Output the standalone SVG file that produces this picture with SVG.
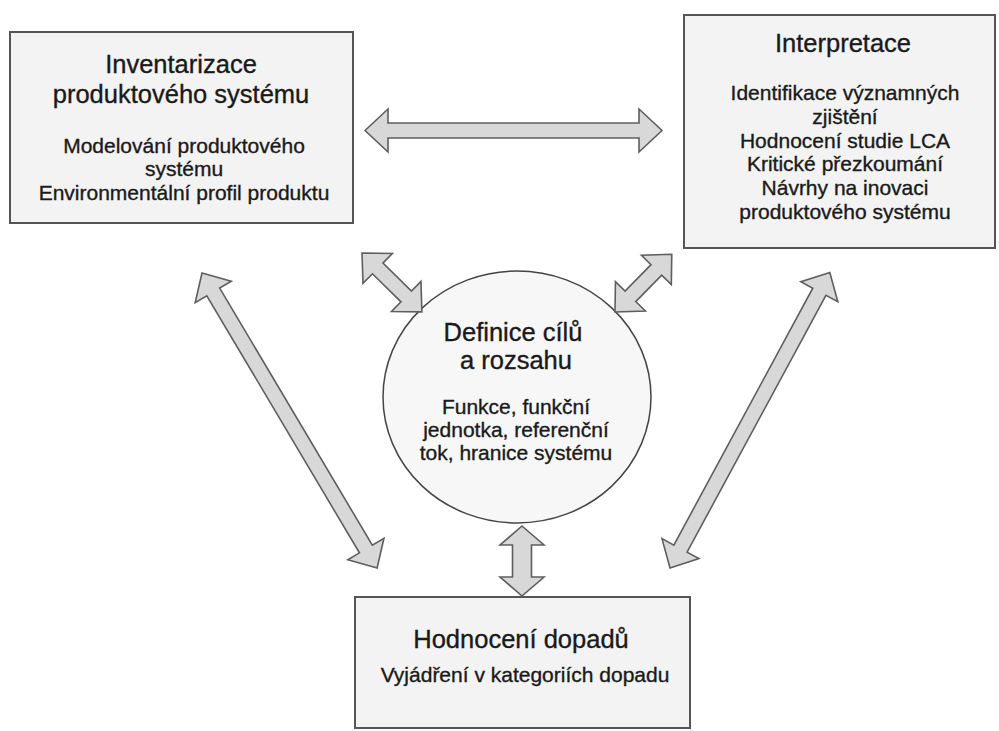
<svg xmlns="http://www.w3.org/2000/svg" width="999" height="731" viewBox="0 0 999 731">
<style>
  .box { fill: #f3f3f3; stroke: #555; stroke-width: 2; }
  .circ { fill: #f7f7f7; stroke: #444; stroke-width: 1.5; }
  .arr { fill: #d8d8d8; stroke: #5e5e5e; stroke-width: 1.6; stroke-linejoin: miter; }
  text { font-family: "Liberation Sans", Arial, sans-serif; fill: #1a1a1a; stroke: #1a1a1a; stroke-width: 0.35; text-anchor: middle; }
  .t { font-size: 25.5px; }
  .s { font-size: 21px; }
</style>
<rect width="999" height="731" fill="#ffffff"/>
<g id="inventarizace">
  <rect class="box" x="10" y="32" width="343" height="191"/>
  <text class="t" x="181" y="73">Inventarizace</text>
  <text class="t" x="181" y="103">produktového systému</text>
  <text class="s" x="184" y="153">Modelování produktového</text>
  <text class="s" x="184" y="176">systému</text>
  <text class="s" x="184" y="200">Environmentální profil produktu</text>
</g>
<g id="interpretace">
  <rect class="box" x="684" y="15" width="311" height="233"/>
  <text class="t" x="843" y="52">Interpretace</text>
  <text class="s" x="845" y="100">Identifikace významných</text>
  <text class="s" x="845" y="124">zjištění</text>
  <text class="s" x="845" y="148">Hodnocení studie LCA</text>
  <text class="s" x="845" y="171">Kritické přezkoumání</text>
  <text class="s" x="845" y="195">Návrhy na inovaci</text>
  <text class="s" x="845" y="219">produktového systému</text>
</g>
<g id="definice">
  <ellipse class="circ" cx="517" cy="397" rx="134" ry="126"/>
  <text class="t" x="513" y="341">Definice cílů</text>
  <text class="t" x="516" y="369">a rozsahu</text>
  <text class="s" x="516" y="414">Funkce, funkční</text>
  <text class="s" x="516" y="437">jednotka, referenční</text>
  <text class="s" x="516" y="460">tok, hranice systému</text>
</g>
<g id="hodnoceni">
  <rect class="box" x="355" y="597" width="335" height="131"/>
  <text class="t" x="521" y="648">Hodnocení dopadů</text>
  <text class="s" x="525" y="682">Vyjádření v kategoriích dopadu</text>
</g>
<g id="connectors">
  <path class="arr" transform="translate(365,130.5)" d="M0,0 L23,-21.5 L23,-7.5 L274,-7.5 L274,-21.5 L297,0 L274,21.5 L274,7.5 L23,7.5 L23,21.5 Z"/>
  <path class="arr" transform="translate(362,253) rotate(44.5)" d="M0,0 L22,-21 L22,-7.5 L62,-7.5 L62,-21 L84,0 L62,21 L62,7.5 L22,7.5 L22,21 Z"/>
  <path class="arr" transform="translate(615,312) rotate(-45.5)" d="M0,0 L22,-21 L22,-7.5 L59,-7.5 L59,-21 L81,0 L59,21 L59,7.5 L22,7.5 L22,21 Z"/>
  <path class="arr" transform="translate(202,273) rotate(59.3)" d="M0,0 L22,-21 L22,-7.5 L321,-7.5 L321,-21 L343,0 L321,21 L321,7.5 L22,7.5 L22,21 Z"/>
  <path class="arr" transform="translate(670,568) rotate(-61.6)" d="M0,0 L22,-21 L22,-7.5 L314,-7.5 L314,-21 L336,0 L314,21 L314,7.5 L22,7.5 L22,21 Z"/>
  <path class="arr" transform="translate(522,526) rotate(90)" d="M0,0 L19,-22 L19,-9.5 L51,-9.5 L51,-22 L70,0 L51,22 L51,9.5 L19,9.5 L19,22 Z"/>
</g>
</svg>
